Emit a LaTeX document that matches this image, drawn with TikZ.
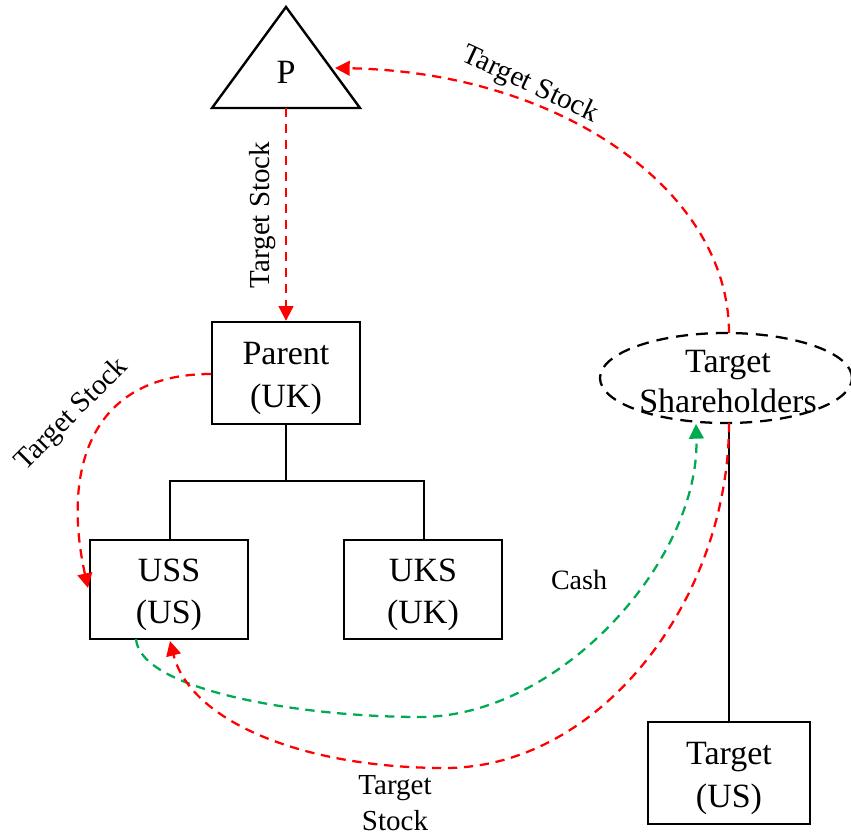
\documentclass[tikz,border=0pt]{standalone}
\usepackage{fontspec}
\setmainfont{Liberation Serif}
\usetikzlibrary{arrows.meta,shapes.geometric}
\begin{document}
\begin{tikzpicture}[x=0.75pt,y=-0.75pt,
  box/.style={draw,line width=1.8pt,rectangle,inner sep=0pt,
    label={[boxtext]center:#1}},
  boxtext/.style={align=center,inner sep=0pt,yshift=-4pt,
    font=\fontsize{25.5}{32}\selectfont},
  conn/.style={line width=1.8pt},
  flow/.style={line width=1.7pt,dash pattern=on 7pt off 5pt,
    -{Triangle[length=11pt,width=11pt]}},
  stockflow/.style={flow,red},
  cashflow/.style={flow,draw=cashgreen,-{Triangle[length=11pt,width=11pt,fill=cashgreen]}},
  lbl/.style={font=\fontsize{21.75}{26}\selectfont,align=center,inner sep=0pt}]
\definecolor{cashgreen}{RGB}{0,170,80}
\useasboundingbox (0,0) rectangle (851,835);

% top-level holding company
\draw[line width=1.8pt,line join=miter] (286,7) -- (360,108) -- (212,108) -- cycle;
\node[font=\fontsize{25.5}{31}\selectfont] (P) at (286,72) {P};
\coordinate (pbase) at (286,108);
\coordinate (pright) at (335,68);

% corporate boxes
\node[box={Parent\\(UK)},minimum width=111pt,minimum height=76.5pt] (parent) at (286,373) {};
\node[box={USS\\(US)},minimum width=118.5pt,minimum height=74.25pt] (uss) at (169,589.5) {};
\node[box={UKS\\(UK)},minimum width=118.5pt,minimum height=74.25pt] (uks) at (423,589.5) {};
\node[box={Target\\(US)},minimum width=121.5pt,minimum height=76.5pt] (target) at (729,773) {};

% shareholders ellipse and its text
\node[draw,ellipse,line width=1.7pt,dash pattern=on 9pt off 6pt,
  minimum width=189pt,minimum height=67.5pt,inner sep=0pt] (sh) at (726,378) {};
\node[font=\fontsize{25.5}{30}\selectfont,align=center,inner sep=0pt] (shtext) at (728,382) {Target\\Shareholders};
\coordinate (shtop) at (729,333);
\coordinate (shbot) at (729,423);
\coordinate (shgreen) at (696,424);

% ownership tree
\coordinate (fork) at (286,481);
\draw[conn] (parent.south) -- (fork);
\draw[conn] (uss.north -| 170,0) |- (fork) -| (uks.north -| 424,0);
\draw[conn] (shbot) -- (target.north -| shbot);

% flows of target stock and cash
\draw[stockflow] (pbase) -- (parent.north);
\node[lbl,rotate=90] (l1) at (263,215) {Target Stock};

\draw[stockflow] (shtop) .. controls (729,190) and (560,72) .. (pright);
\node[lbl,rotate=-25] (l2) at (530,85) {Target Stock};

\coordinate (ussleft) at (88,588);
\draw[stockflow] (parent.west |- 0,374) .. controls (90,374) and (62,470) .. (ussleft);
\node[lbl,rotate=45] (l3) at (72,415) {Target Stock};

\coordinate (ussbl) at (136,639);
\coordinate (glow) at (420,717);
\draw[cashflow] (ussbl) .. controls (140,690) and (300,717) .. (glow)
  .. controls (560,717) and (700,560) .. (shgreen);
\node[lbl,font=\fontsize{21}{25}\selectfont] (cash) at (579,580) {Cash};

\coordinate (ussbr) at (170,641);
\coordinate (rlow) at (445,768);
\draw[stockflow] (shbot) .. controls (729,600) and (600,768) .. (rlow)
  .. controls (300,768) and (190,720) .. (ussbr);
\node[lbl,font=\fontsize{21.75}{27}\selectfont] (l4) at (395,803) {Target\\Stock};
\end{tikzpicture}
\end{document}
